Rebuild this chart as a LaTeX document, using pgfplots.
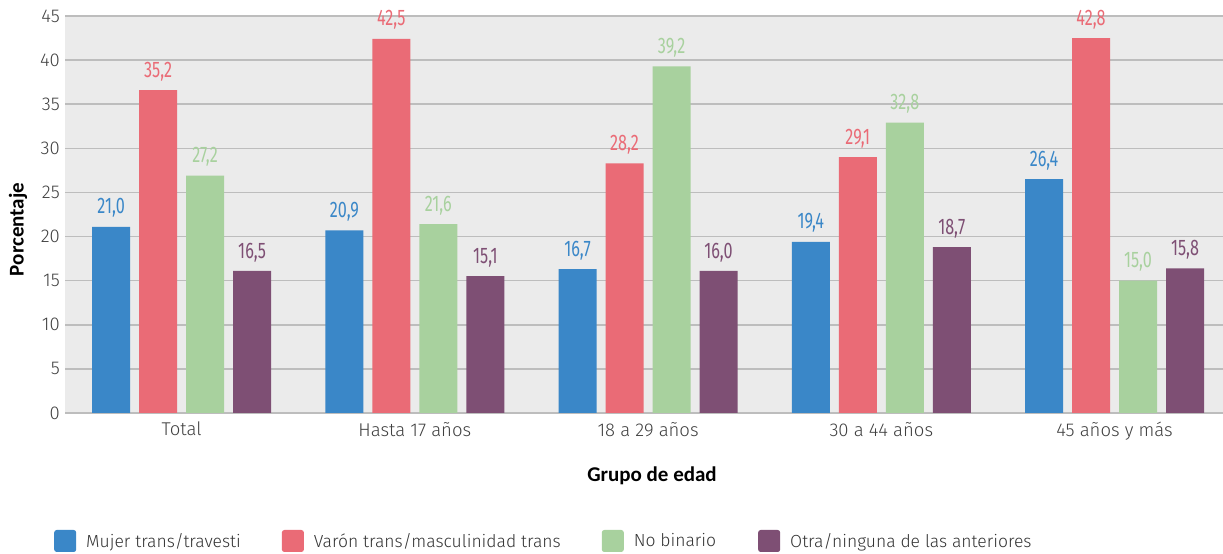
\documentclass[border=0pt]{standalone}
\usepackage{pgfplots}
\pgfplotsset{compat=1.18}
\usepackage{pgfplotstable}
\usepackage{fontspec}
\setmainfont{Fira Sans Light}
\newfontfamily\condfont{Fira Sans}[FakeStretch=0.72]
\newfontfamily\titlefont{Carlito}

\definecolor{cmujer}{HTML}{3A87C8}
\definecolor{cvaron}{HTML}{EA6B76}
\definecolor{cnobin}{HTML}{A8D19E}
\definecolor{cotra}{HTML}{7E4F74}
\definecolor{bgplot}{HTML}{EBEBEB}
\definecolor{gridc}{HTML}{BDBDBD}
\definecolor{tickc}{HTML}{404040}

% bar heights as drawn, labels as printed
\pgfplotstableread{
x  mujer mujerL varon varonL nobin nobinL otra otraL
0  21.1  21,0   36.6  35,2   26.9  27,2   16.1 16,5
1  20.7  20,9   42.4  42,5   21.4  21,6   15.5 15,1
2  16.3  16,7   28.3  28,2   39.3  39,2   16.1 16,0
3  19.4  19,4   29.0  29,1   32.9  32,8   18.8 18,7
4  26.5  26,4   42.5  42,8   15.0  15,0   16.4 15,8
}\datatable

\begin{document}
\begin{tikzpicture}[x=1bp,y=1bp]
\useasboundingbox (0,0) rectangle (1223,554);
\begin{axis}[
    at={(65bp,141bp)}, anchor=south west,
    scale only axis,
    width=1158bp, height=397bp,
    ybar=9bp, bar width=38bp,
    xmin=-0.5, xmax=4.465,
    ymin=0, ymax=45,
    ytick={0,5,...,45},
    xtick={0,1,2,3,4},
    xticklabels={Total, Hasta 17 años, 18 a 29 años, 30 a 44 años, 45 años y más},
    axis background/.style={fill=bgplot},
    axis line style={draw=none},
    axis x line*=bottom,
    x axis line style={draw=gridc, line width=1.5bp},
    major tick length=0pt,
    ymajorgrids,
    major grid style={draw=gridc, line width=1.5bp},
    /pgf/number format/assume math mode=true,
    tick label style={font=\fontsize{18.5bp}{21bp}\selectfont, text=tickc, inner sep=0pt},
    yticklabel style={xshift=-5bp},
    xticklabel style={yshift=-9bp},
    xlabel={Grupo de edad},
    ylabel={Porcentaje},
    label style={font=\titlefont\bfseries\fontsize{21bp}{24bp}\selectfont},
    xlabel style={at={(axis description cs:0.5,0)}, anchor=center, yshift=-63bp, xshift=8bp},
    ylabel style={at={(axis description cs:0,0.5)}, anchor=center, yshift=47bp, xshift=-15bp},
    point meta=explicit symbolic,
    nodes near coords,
    every node near coord/.append style={font=\condfont\fontsize{22.5bp}{24bp}\selectfont, inner sep=0pt, anchor=south, yshift=9bp},
    legend columns=4,
    legend style={draw=none, fill=none, inner sep=0pt,
        at={(axis description cs:0,0)}, anchor=west, xshift=-11bp, yshift=-128bp,
        font=\fontsize{17.5bp}{20bp}\selectfont, text=black!80,
        nodes={inner sep=0pt},
        /tikz/column 1/.style={column sep=10bp},
        /tikz/column 2/.style={column sep=41bp},
        /tikz/column 3/.style={column sep=10bp},
        /tikz/column 4/.style={column sep=41bp},
        /tikz/column 5/.style={column sep=10bp},
        /tikz/column 6/.style={column sep=42bp},
        /tikz/column 7/.style={column sep=10bp}},
    legend image code/.code={\fill[#1, rounded corners=2.5bp] (0bp,-11bp) rectangle (22bp,11bp);},
]
\addplot[fill=cmujer, draw=none, every node near coord/.append style={text=cmujer}]
    table[x=x, y=mujer, meta=mujerL] {\datatable};
\addplot[fill=cvaron, draw=none, every node near coord/.append style={text=cvaron}]
    table[x=x, y=varon, meta=varonL] {\datatable};
\addplot[fill=cnobin, draw=none, every node near coord/.append style={text=cnobin}]
    table[x=x, y=nobin, meta=nobinL] {\datatable};
\addplot[fill=cotra, draw=none, every node near coord/.append style={text=cotra}]
    table[x=x, y=otra, meta=otraL] {\datatable};
\legend{Mujer trans/travesti, Varón trans/masculinidad trans, No binario, Otra/ninguna de las anteriores}
\end{axis}
\end{tikzpicture}
\end{document}
